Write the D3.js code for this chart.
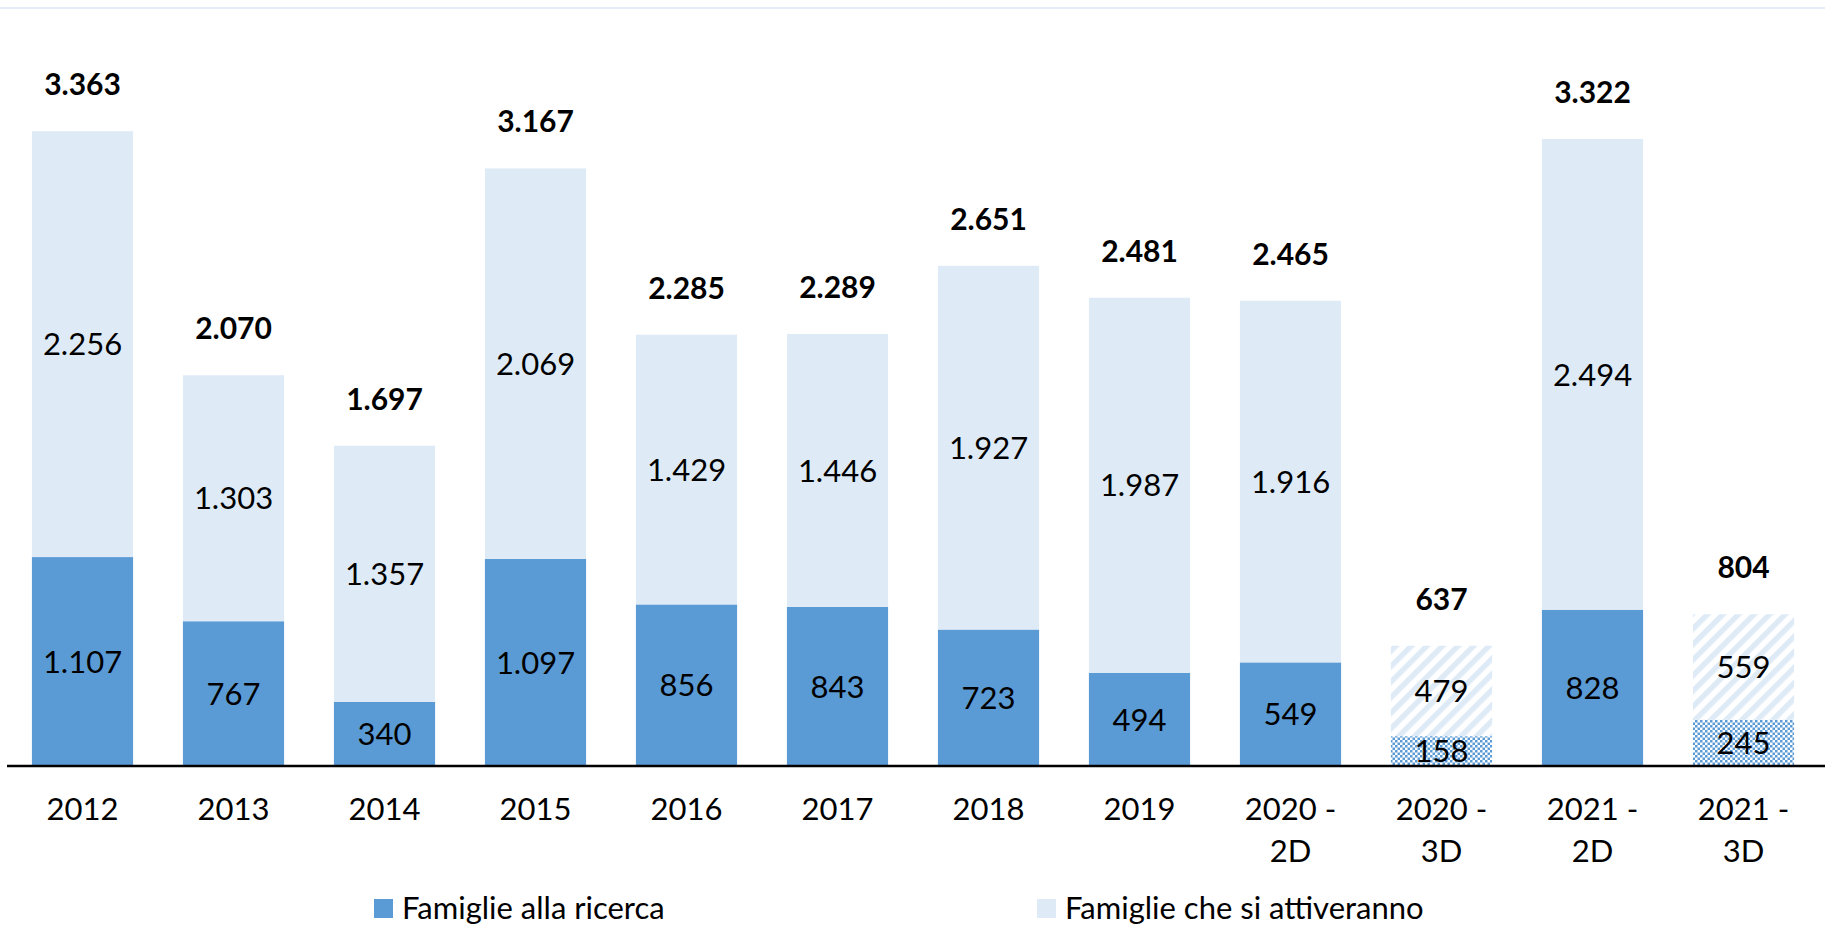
<!DOCTYPE html>
<html>
<head>
<meta charset="utf-8">
<script src="https://cdn.jsdelivr.net/npm/d3@7"></script>
<style>
  body { margin: 0; background: #fff; }
  text { font-family: Lato, "Open Sans", sans-serif; fill: #000; }
</style>
</head>
<body>
<svg id="chart" width="1825" height="948"></svg>
<script>
// categories (axis labels, "\n" = line break)
const categories = ["2012", "2013", "2014", "2015", "2016", "2017", "2018", "2019",
  "2020 -\n2D", "2020 -\n3D", "2021 -\n2D", "2021 -\n3D"];
// Famiglie alla ricerca
const searching = [1107, 767, 340, 1097, 856, 843, 723, 494, 549, 158, 828, 245];
// Famiglie che si attiveranno
const activating = [2256, 1303, 1357, 2069, 1429, 1446, 1927, 1987, 1916, 479, 2494, 559];
// totals shown on top
const totals = [3363, 2070, 1697, 3167, 2285, 2289, 2651, 2481, 2465, 637, 3322, 804];
// bars drawn with a pattern fill (3D estimates)
const patterned = ["2020 -\n3D", "2021 -\n3D"];
const seriesNames = ["Famiglie alla ricerca", "Famiglie che si attiveranno"];

const dark = "#5b9bd5", light = "#deebf7";
const fmt = v => d3.format(",")(v).replace(/,/g, ".");

let svg = d3.select("#chart");

// patterns
let defs = svg.append("defs");
let stripes = defs.append("pattern")
  .attr("id", "stripes")
  .attr("patternUnits", "userSpaceOnUse")
  .attr("width", 11).attr("height", 11)
  .attr("patternTransform", "rotate(45)");
stripes.append("rect").attr("width", 11).attr("height", 11).attr("fill", "#fff");
stripes.append("rect").attr("width", 5.5).attr("height", 11).attr("fill", light);

let checker = defs.append("pattern")
  .attr("id", "checker")
  .attr("patternUnits", "userSpaceOnUse")
  .attr("width", 5).attr("height", 5);
checker.append("rect").attr("width", 5).attr("height", 5).attr("fill", "#fff");
checker.append("rect").attr("width", 2.5).attr("height", 2.5).attr("fill", dark);
checker.append("rect").attr("x", 2.5).attr("y", 2.5).attr("width", 2.5).attr("height", 2.5).attr("fill", dark);

let x_scale = d3.scaleBand()
  .domain(categories)
  .range([7, 1819])
  .paddingInner(0.33)
  .paddingOuter(0.165);

let y_scale = d3.scaleLinear()
  .domain([0, 4000])
  .range([766, 11]);

// faint top border
svg.append("line")
  .attr("x1", 0).attr("x2", 1825)
  .attr("y1", 8).attr("y2", 8)
  .attr("stroke", "#dce9f5")
  .attr("stroke-width", 1.5);

let rows = categories.map((c, i) => ({cat: c, searching: searching[i], activating: activating[i], total: totals[i]}));
let stack = d3.stack().keys(["searching", "activating"])(rows);

let fills = {
  searching: c => patterned.includes(c) ? "url(#checker)" : dark,
  activating: c => patterned.includes(c) ? "url(#stripes)" : light
};

let layers = svg.selectAll(".layer")
  .data(stack)
  .join("g")
  .attr("class", "layer");

layers.selectAll("rect")
  .data(s => s.map(d => ({key: s.key, d: d})))
  .join("rect")
  .attr("x", e => x_scale(e.d.data.cat))
  .attr("width", x_scale.bandwidth())
  .attr("y", e => y_scale(e.d[1]))
  .attr("height", e => y_scale(e.d[0]) - y_scale(e.d[1]))
  .attr("fill", e => fills[e.key](e.d.data.cat));

// segment labels
layers.selectAll(".seg-label")
  .data(s => s.map(d => ({key: s.key, d: d})))
  .join("text")
  .attr("class", "seg-label")
  .attr("x", e => x_scale(e.d.data.cat) + x_scale.bandwidth() / 2)
  .attr("y", e => (y_scale(e.d[0]) + y_scale(e.d[1])) / 2)
  .attr("dy", "0.36em")
  .attr("text-anchor", "middle")
  .style("font-size", "31px")
  .text(e => fmt(e.d.data[e.key]));

// totals
svg.selectAll(".total-label")
  .data(rows)
  .join("text")
  .attr("class", "total-label")
  .attr("x", d => x_scale(d.cat) + x_scale.bandwidth() / 2)
  .attr("y", d => y_scale(d.total) - 36)
  .attr("text-anchor", "middle")
  .style("font-size", "30px")
  .style("font-weight", "bold")
  .text(d => fmt(d.total));

// x axis
let x_axis = svg.append("g")
  .attr("transform", "translate(0, 766)")
  .call(d3.axisBottom(x_scale).tickSize(0).tickFormat(""));
x_axis.select(".domain").remove();
x_axis.append("line")
  .attr("x1", 7).attr("x2", 1825)
  .attr("stroke", "#000")
  .attr("stroke-width", 2.5);

x_axis.selectAll(".tick").append("text")
  .attr("text-anchor", "middle")
  .style("font-size", "31px")
  .style("font-family", "Lato, sans-serif")
  .attr("fill", "#000")
  .selectAll("tspan")
  .data(d => d.split("\n"))
  .join("tspan")
  .attr("x", 0)
  .attr("y", (d, i) => 54 + i * 42)
  .text(d => d);

// legend
let legend = svg.append("g").attr("class", "legend");
let legendX = [374, 1037];
legend.selectAll("rect")
  .data(seriesNames)
  .join("rect")
  .attr("x", (d, i) => legendX[i])
  .attr("y", 899)
  .attr("width", 19).attr("height", 19)
  .attr("fill", (d, i) => i === 0 ? dark : light);
legend.selectAll("text")
  .data(seriesNames)
  .join("text")
  .attr("x", (d, i) => legendX[i] + 28)
  .attr("y", 919)
  .style("font-size", "31px")
  .text(d => d);
</script>
</body>
</html>
